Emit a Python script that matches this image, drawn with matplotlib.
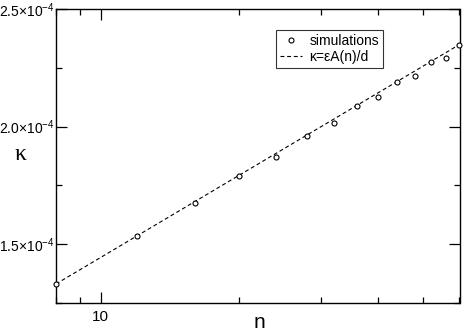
import matplotlib
matplotlib.use("Agg")
import matplotlib.pyplot as plt
from matplotlib.ticker import FixedLocator, FixedFormatter, NullFormatter

plt.rcParams['font.family'] = ['Liberation Sans', 'DejaVu Sans']
plt.rcParams['mathtext.fontset'] = 'custom'
plt.rcParams['mathtext.rm'] = 'Liberation Sans'
plt.rcParams['mathtext.it'] = 'Liberation Sans:italic'
plt.rcParams['mathtext.bf'] = 'Liberation Sans:bold'

# simulation data
n_sim = [8, 12, 16, 20, 24, 28, 32, 36, 40, 44, 48, 52, 56, 60]
kappa_sim = [1.331e-4, 1.535e-4, 1.674e-4, 1.790e-4, 1.872e-4, 1.959e-4, 2.017e-4,
             2.087e-4, 2.126e-4, 2.188e-4, 2.216e-4, 2.273e-4, 2.290e-4, 2.349e-4]

# theory line  kappa = eps A(n)/d
n_line = [8, 60]
kappa_line = [1.331e-4, 2.349e-4]

y_major = [1.5e-4, 2.0e-4, 2.5e-4]
y_major_labels = ['1.5×10$^{\\mathrm{-4}}$', '2.0×10$^{\\mathrm{-4}}$',
                  '2.5×10$^{\\mathrm{-4}}$']
y_minor = [1.25e-4, 1.75e-4, 2.25e-4]
x_major = [10]
x_major_labels = ['10']
x_minor = [8, 9, 20, 30, 40, 50, 60]

fig = plt.figure(figsize=(4.63, 3.36), dpi=100)
ax = fig.add_axes([56/463, 1-303/336, (459.5-56)/463, (303-9)/336])

ax.plot(n_line, kappa_line, color='black', lw=0.8, ls=(0, (3.5, 2.5)),
        label=r'κ=εA(n)/d')
ax.plot(n_sim, kappa_sim, ls='none', marker='o', ms=3.6, mfc='white',
        mec='black', mew=0.8, label='simulations', clip_on=False, zorder=3)

ax.set_xscale('log')
ax.set_xlim(8, 60)
ax.set_ylim(1.25e-4, 2.5e-4)

ax.xaxis.set_major_locator(FixedLocator(x_major))
ax.xaxis.set_major_formatter(FixedFormatter(x_major_labels))
ax.xaxis.set_minor_locator(FixedLocator(x_minor))
ax.xaxis.set_minor_formatter(NullFormatter())
ax.yaxis.set_major_locator(FixedLocator(y_major))
ax.yaxis.set_major_formatter(FixedFormatter(y_major_labels))
ax.yaxis.set_minor_locator(FixedLocator(y_minor))

ax.tick_params(which='both', direction='in', top=True, right=True, width=0.9,
               colors='black')
ax.tick_params(which='major', length=8)
ax.tick_params(which='minor', length=4)
ax.tick_params(axis='y', which='major', pad=1, labelsize=10)
ax.tick_params(axis='x', which='major', pad=5, labelsize=11)
for s in ax.spines.values():
    s.set_linewidth(1.0)
    s.set_color('black')

ax.set_xlabel('n', fontsize=15)
ax.xaxis.set_label_coords(0.505, -0.035)
ax.set_ylabel('κ', fontsize=17, rotation=0, family=['Liberation Serif', 'DejaVu Serif'],
              labelpad=0)
ax.yaxis.set_label_coords(-0.088, 0.47)

h, l = ax.get_legend_handles_labels()
leg = ax.legend([h[1], h[0]], [l[1], l[0]], loc='upper left',
                bbox_to_anchor=(276/463, 1-30/336), bbox_transform=fig.transFigure,
                fontsize=10, frameon=True, fancybox=False, handlelength=1.6,
                handletextpad=0.5, borderpad=0.3, labelspacing=0.12,
                borderaxespad=0)
leg.get_frame().set_edgecolor('black')
leg.get_frame().set_linewidth(0.8)

fig.savefig('out.png', dpi=100)
